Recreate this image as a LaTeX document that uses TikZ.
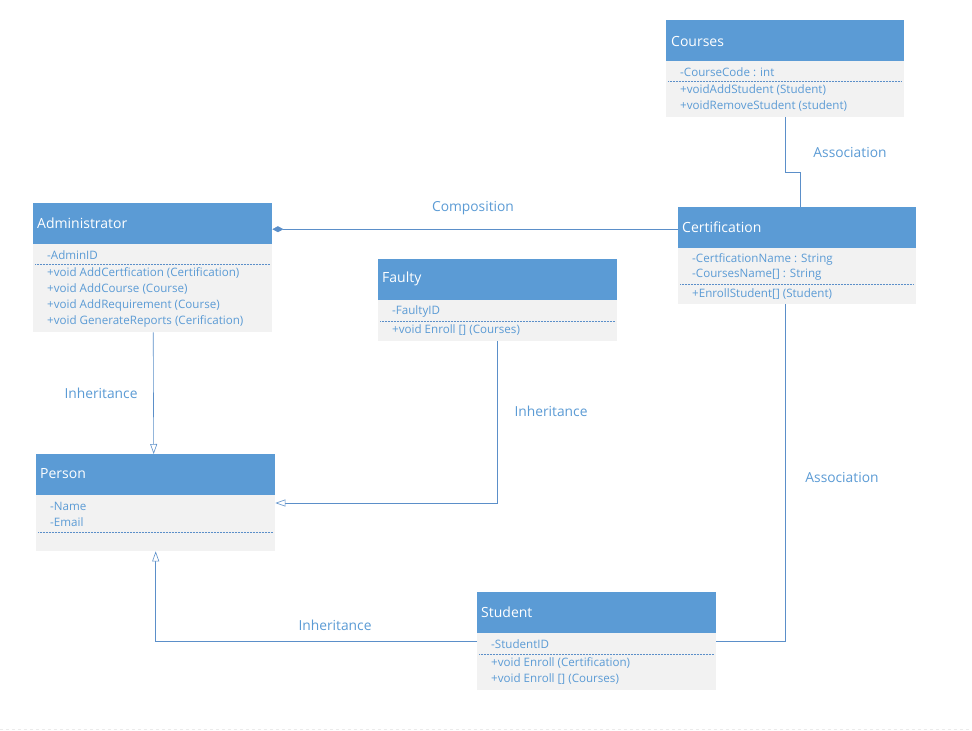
\documentclass[tikz,border=0pt]{standalone}
\usepackage{fontspec}
\setmainfont{Open Sans}
\usetikzlibrary{arrows.meta,calc}
\definecolor{hdrblue}{HTML}{5B9BD5}
\definecolor{bodygray}{HTML}{F2F2F2}
\definecolor{txtblue}{HTML}{5B9BD5}
\definecolor{lineblue}{HTML}{5B8FC9}
\tikzset{
  hdr/.style={draw=none, fill=hdrblue, text=white, anchor=north west, inner sep=0pt,
    minimum height=41pt},
  hdrtext/.style={anchor=west, text=white, inner sep=0pt, font=\fontsize{14}{16}\selectfont},
  cbody/.style={draw=none, fill=bodygray, anchor=north west, inner sep=0pt},
  member/.style={anchor=west, text=txtblue, inner sep=0pt, font=\fontsize{11.6}{13}\selectfont},
  sep/.style={lineblue, densely dotted, line width=0.5pt},
  conn/.style={lineblue, line width=0.6pt},
  lbl/.style={text=txtblue, inner sep=0pt, font=\fontsize{13.8}{16}\selectfont},
  inh/.style={conn, -{Triangle[open, length=10pt, width=7pt, fill=white]}},
  comp/.style={conn, {Diamond[length=11pt, width=6pt]}-},
}
\begin{document}
\begin{tikzpicture}[x=1pt, y=-1pt]
\useasboundingbox (0,0) rectangle (972,731);
\fill[white] (0,0) rectangle (972,731);

% Courses
\node[hdr, minimum width=238pt] (coursesH) at (666,20) {};
\node[hdrtext] (coursesT) at (671,41) {Courses};
\node[cbody, minimum width=238pt, minimum height=56pt] (coursesB) at (666,61) {};
\node[member] (c1) at (680,72) {-CourseCode : int};
\draw[sep] (668,81) -- (902,81);
\node[member] (c2) at (680,90) {+voidAddStudent (Student)};
\node[member] (c3) at (680,106) {+voidRemoveStudent (student)};

% Administrator
\node[hdr, minimum width=239pt] (adminH) at (33,203) {};
\node[hdrtext] (adminT) at (37,223) {Administrator};
\node[cbody, minimum width=239pt, minimum height=88pt] (adminB) at (33,244) {};
\node[member] (a1) at (47,255) {-AdminID};
\draw[sep] (35,264) -- (270,264);
\node[member] (a2) at (47,273) {+void AddCertfication (Certification)};
\node[member] (a3) at (47,289) {+void AddCourse (Course)};
\node[member] (a4) at (47,305) {+void AddRequirement (Course)};
\node[member] (a5) at (47,321) {+void GenerateReports (Cerification)};

% Certification
\node[hdr, minimum width=238pt] (certH) at (678,207) {};
\node[hdrtext] (certT) at (682,227) {Certification};
\node[cbody, minimum width=238pt, minimum height=56pt] (certB) at (678,248) {};
\node[member] (ce1) at (692,259) {-CertficationName : String};
\node[member] (ce2) at (692,275) {-CoursesName[] : String};
\draw[sep] (680,284) -- (914,284);
\node[member] (ce3) at (692,294) {+EnrollStudent[] (Student)};

% Faulty
\node[hdr, minimum width=239pt] (faultyH) at (378,259) {};
\node[hdrtext] (faultyT) at (382,279) {Faulty};
\node[cbody, minimum width=239pt, minimum height=41pt] (faultyB) at (378,300) {};
\node[member] (f1) at (392,311) {-FaultyID};
\draw[sep] (380,321) -- (615,321);
\node[member] (f2) at (392,330) {+void Enroll [] (Courses)};

% Person
\node[hdr, minimum width=239pt] (personH) at (36,454) {};
\node[hdrtext] (personT) at (40,474) {Person};
\node[cbody, minimum width=239pt, minimum height=56pt] (personB) at (36,495) {};
\node[member] (p1) at (50,506) {-Name};
\node[member] (p2) at (50,522) {-Email};
\draw[sep] (38,532) -- (273,532);

% Student
\node[hdr, minimum width=239pt] (studentH) at (477,592) {};
\node[hdrtext] (studentT) at (481,612) {Student};
\node[cbody, minimum width=239pt, minimum height=57pt] (studentB) at (477,633) {};
\node[member] (s1) at (491,644) {-StudentID};
\draw[sep] (479,654) -- (714,654);
\node[member] (s2) at (491,663) {+void Enroll (Certification)};
\node[member] (s3) at (491,679) {+void Enroll [] (Courses)};

% Connectors
\coordinate (cw) at ($(certH.west)+(0,1.5)$);
\draw[comp] (cw -| adminH.east) -- (cw);
\node[lbl] (compL) at (473,208) {Composition};

\draw[conn] (coursesB.south) -- ++(0,55) -| ($(certH.north)+(3,0)$);
\node[lbl] (assoc1) at (850,153) {Association};

\draw[inh] ($(adminB.south)+(0.5,0)$) -- ($(personH.north)+(-2,0)$);
\node[lbl] (inh1) at (101,393) {Inheritance};

\coordinate (fp) at ($(personB.north east)+(0,8)$);
\draw[inh] (faultyB.south) |- (fp);
\node[lbl] (inh2) at (551,411) {Inheritance};

\coordinate (sp) at ($(studentB.north west)+(0,8)$);
\draw[inh] (sp) -| (personB.south);
\node[lbl] (inh3) at (335,625) {Inheritance};

\coordinate (ss) at ($(studentB.north east)+(0,8)$);
\draw[conn] ($(certB.south)+(-12,0)$) |- (ss);
\node[lbl] (assoc2) at (842,477) {Association};

% page edge
\draw[black!8, dashed, line width=0.5pt] (0,729) -- (972,729);
\end{tikzpicture}
\end{document}
